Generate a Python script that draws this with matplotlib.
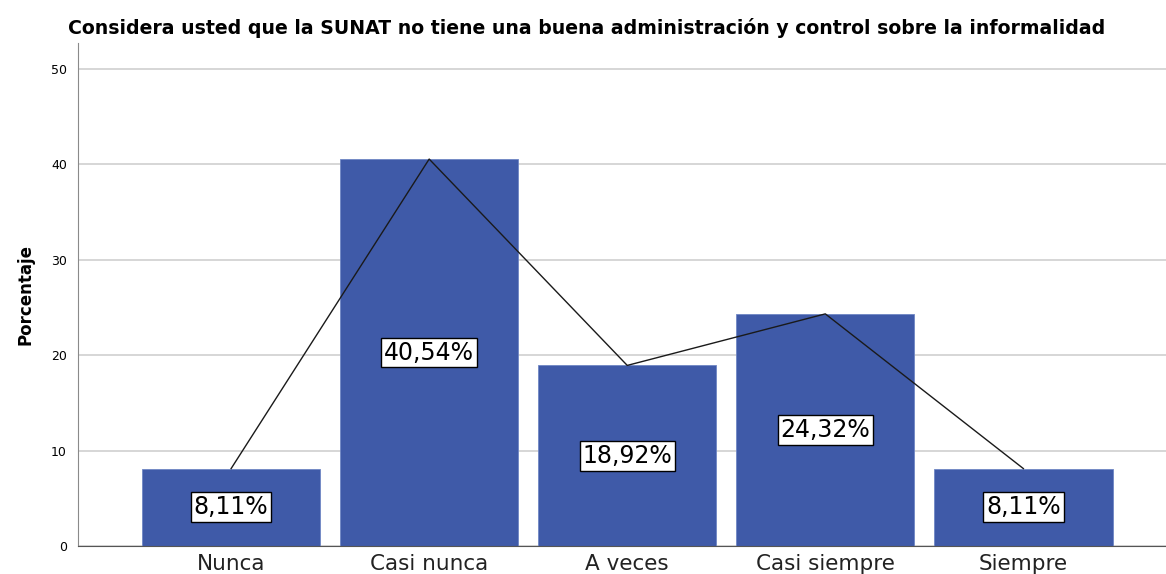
import matplotlib.pyplot as plt

plt.rcParams['font.family'] = ['DejaVu Sans']

# data
categories = ["Nunca", "Casi nunca", "A veces", "Casi siempre", "Siempre"]
percentages = [8.11, 40.54, 18.92, 24.32, 8.11]
labels = ["8,11%", "40,54%", "18,92%", "24,32%", "8,11%"]
yticks = [0, 10, 20, 30, 40, 50]

bar_color = "#3f5aa8"

fig = plt.figure(figsize=(11.66, 5.74), dpi=100)
ax = fig.add_axes([78 / 1166, 28 / 574, 1 - 78 / 1166, (546 - 43) / 574])

x = list(range(len(categories)))
ax.bar(x, percentages, width=0.9, color=bar_color, edgecolor="#6f86c4",
       linewidth=0.6, zorder=2)
ax.plot(x, percentages, color="#1a1a1a", linewidth=1.0, zorder=3)

for xi, v, lab in zip(x, percentages, labels):
    ax.text(xi, v / 2, lab, ha="center", va="center", fontsize=17, zorder=4,
            bbox=dict(boxstyle="square,pad=0.12", facecolor="white",
                      edgecolor="black", linewidth=1.0))

ax.set_xlim(-0.773, 4.72)
ax.set_ylim(0, 52.7)
ax.set_yticks(yticks)
ax.set_yticklabels([str(t) for t in yticks], fontsize=9)
ax.set_xticks(x)
ax.set_xticklabels(categories, fontsize=15.5, color="#222222")
ax.tick_params(axis="both", length=0)
ax.tick_params(axis="x", pad=6)
ax.tick_params(axis="y", pad=8)

ax.yaxis.grid(True, color="#cfcfcf", linewidth=1.2, zorder=0)
ax.set_axisbelow(True)
for side in ["top", "right"]:
    ax.spines[side].set_visible(False)
ax.spines["left"].set_color("#8a8a8a")
ax.spines["bottom"].set_color("#555555")

ax.set_ylabel("Porcentaje", fontsize=12, fontweight="bold", labelpad=12)
fig.text(587 / 1166, 1 - 28 / 574,
         "Considera usted que la SUNAT no tiene una buena administración y control sobre la informalidad",
         ha="center", va="center", fontsize=13.6, fontweight="bold")

fig.savefig("out.png", dpi=100)
